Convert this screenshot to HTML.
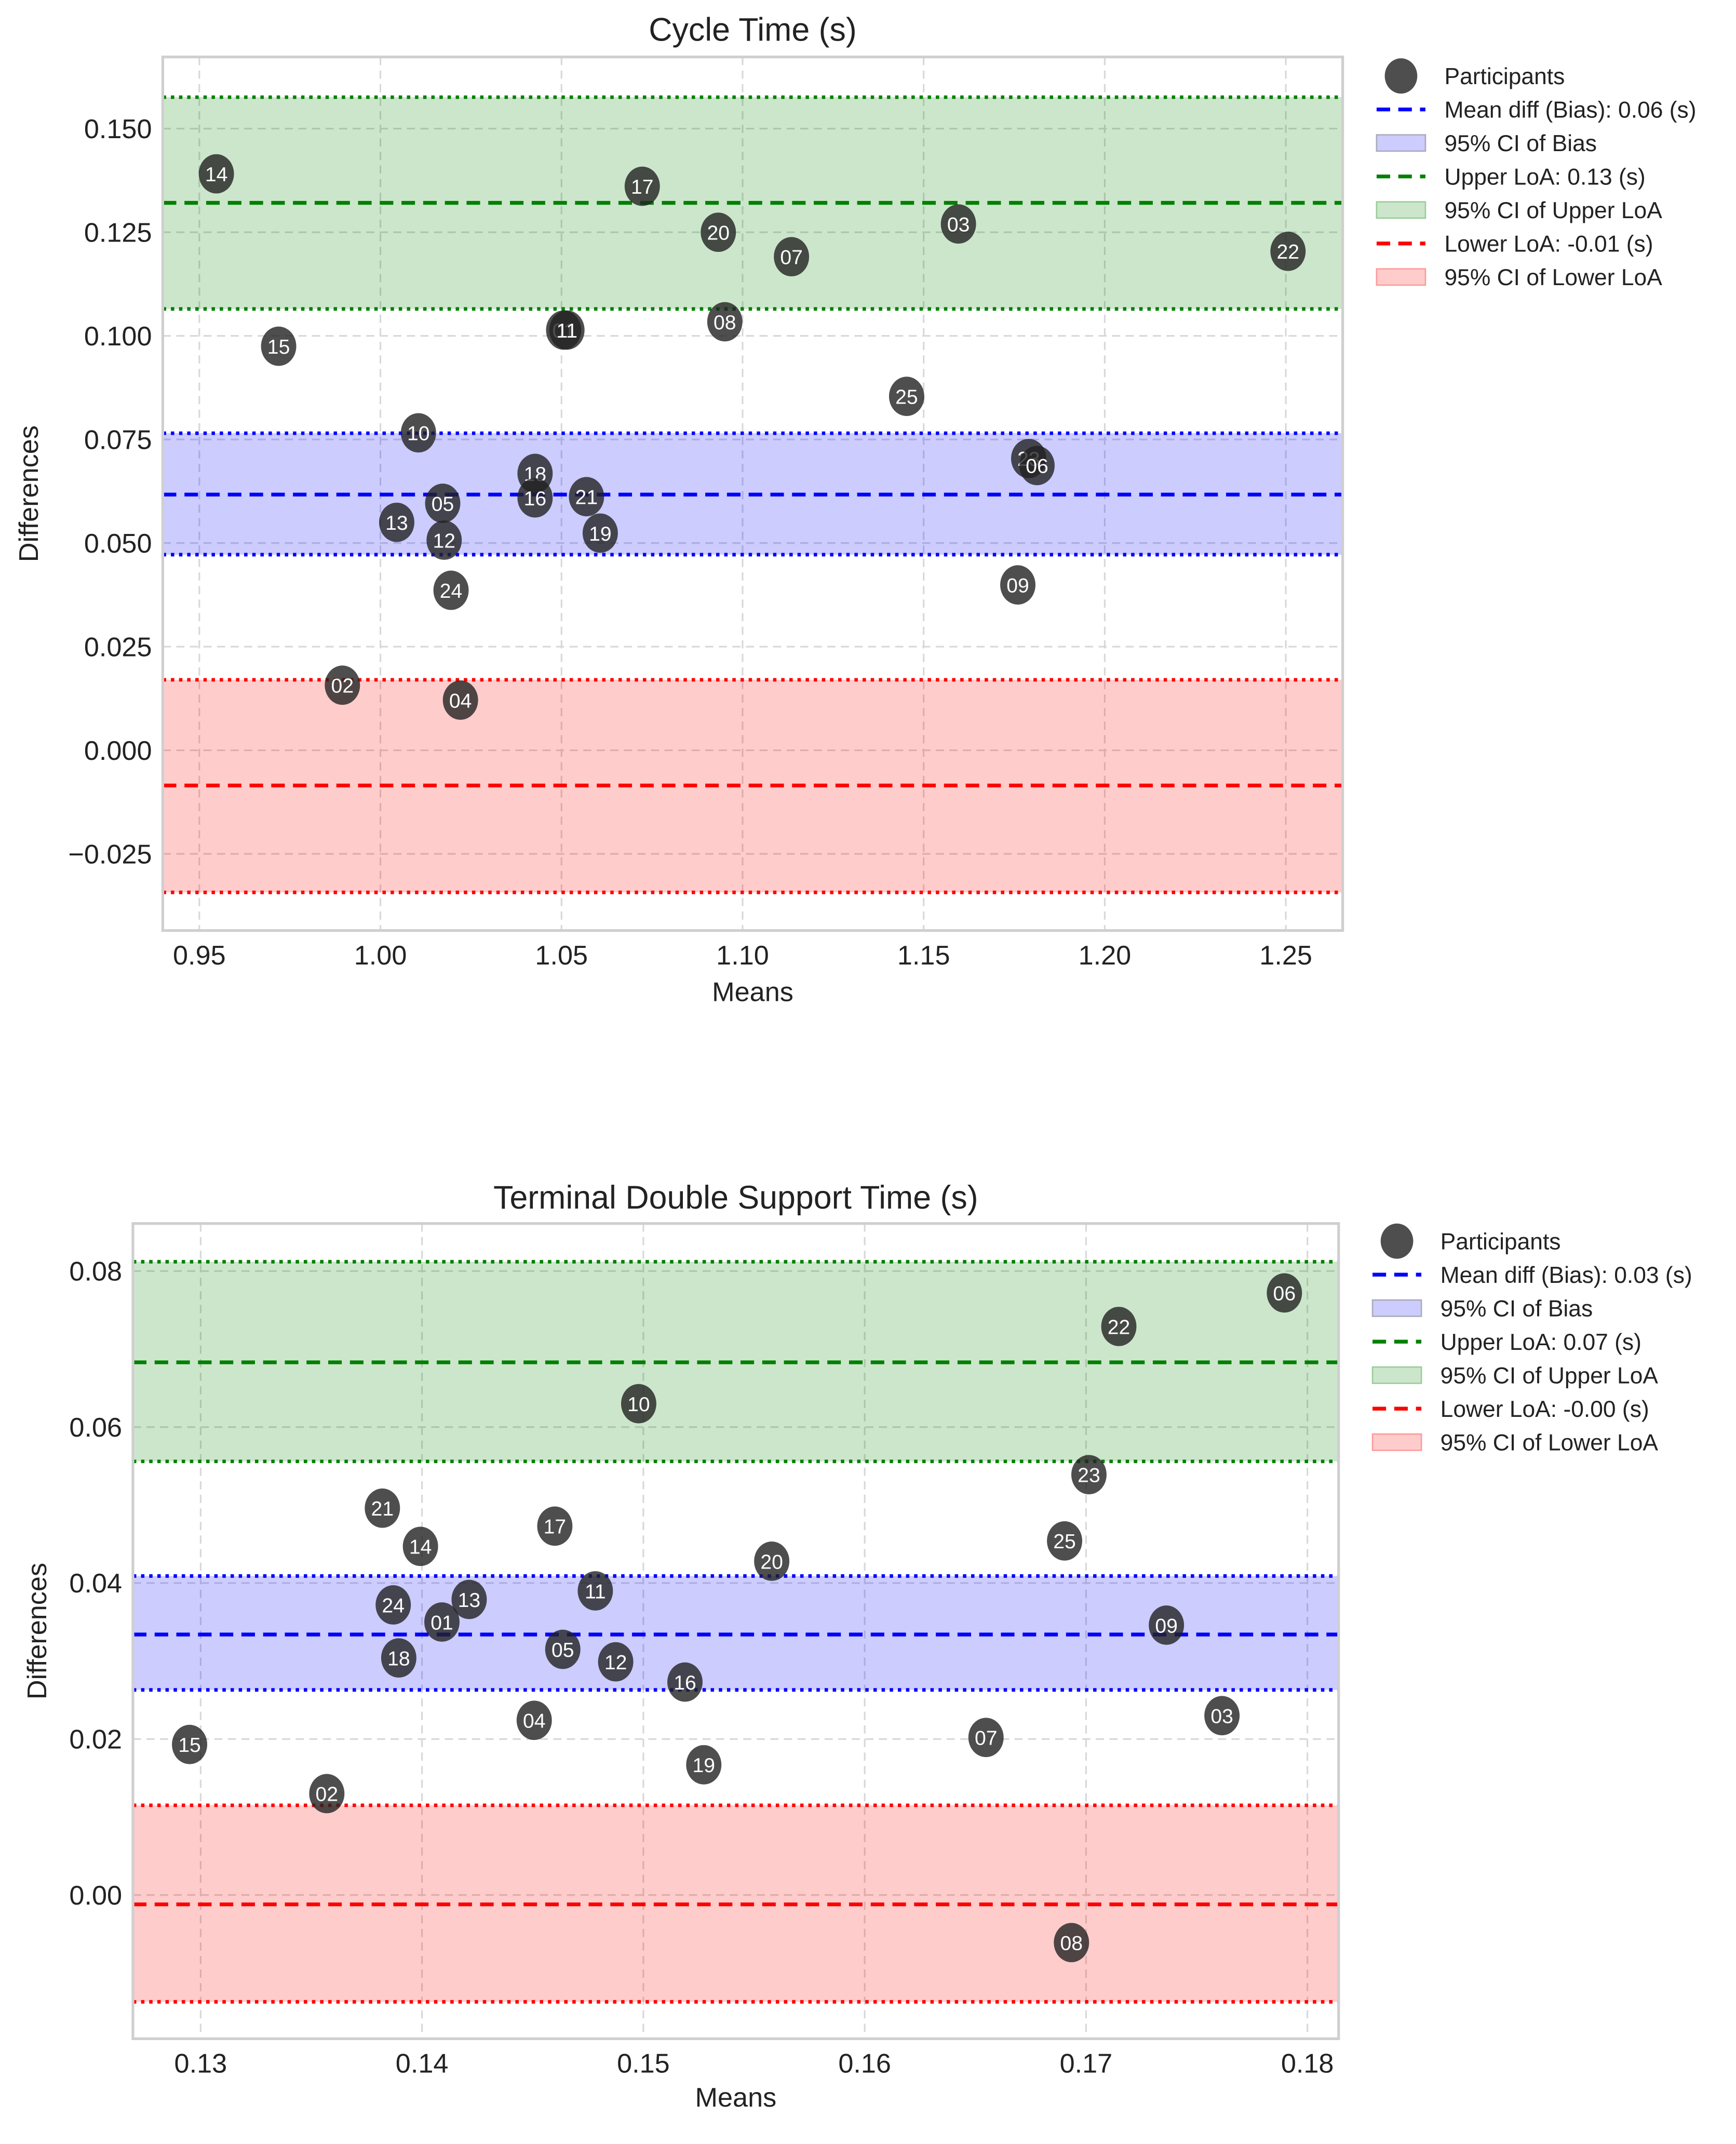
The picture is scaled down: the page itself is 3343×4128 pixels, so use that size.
<!DOCTYPE html>
<html><head><meta charset="utf-8"><style>
html,body{margin:0;padding:0;background:#fff;}
svg{display:block;font-family:"Liberation Sans",sans-serif;}
</style></head><body>
<svg id="root" width="3343" height="4128" viewBox="0 0 1280 1580.6" preserveAspectRatio="none" xmlns="http://www.w3.org/2000/svg"></svg>
<script>
// ---- Chart 1: Cycle Time ----
const c1Ids = ["14","17","20","07","03","22","15","01","11","08","25","10","23","06","18","16","21","05","13","19","12","24","09","02","04"];
const c1Means = [0.9547,1.0723,1.0933,1.1135,1.1596,1.2506,0.9719,1.0506,1.0515,1.0951,1.1453,1.0105,1.179,1.1813,1.0427,1.0427,1.0569,1.0172,1.0045,1.0607,1.0176,1.0195,1.176,0.9895,1.0221];
const c1Diffs = [0.1391,0.1361,0.125,0.1191,0.127,0.1204,0.0975,0.1014,0.1014,0.1034,0.0854,0.0766,0.0704,0.0687,0.0668,0.0609,0.0612,0.0596,0.055,0.0524,0.0507,0.0386,0.0399,0.0157,0.0121];
const c1XTicks = [0.95,1.00,1.05,1.10,1.15,1.20,1.25];
const c1XTickLabels = ["0.95","1.00","1.05","1.10","1.15","1.20","1.25"];
const c1YTicks = [0.150,0.125,0.100,0.075,0.050,0.025,0.000,-0.025];
const c1YTickLabels = ["0.150","0.125","0.100","0.075","0.050","0.025","0.000","\u22120.025"];
const c1Stats = [0.0617,0.0472,0.0765,0.1321,0.1065,0.1576,-0.0085,-0.0343,0.0170];
const c1Legend = ["Participants","Mean diff (Bias): 0.06 (s)","95% CI of Bias","Upper LoA: 0.13 (s)","95% CI of Upper LoA","Lower LoA: -0.01 (s)","95% CI of Lower LoA"];

// ---- Chart 2: Terminal Double Support ----
const c2Ids = ["06","22","10","23","21","17","14","25","20","11","13","24","01","09","18","05","12","16","04","03","07","15","19","02","08"];
const c2Means = [0.17896,0.17148,0.14979,0.17013,0.13821,0.1460,0.13993,0.16903,0.1558,0.14783,0.14213,0.1387,0.1409,0.17363,0.13895,0.14636,0.14875,0.15188,0.14507,0.17614,0.16548,0.1295,0.15273,0.1357,0.16934];
const c2Diffs = [0.0772,0.0729,0.0630,0.0539,0.0496,0.0473,0.0447,0.0454,0.0428,0.0390,0.0379,0.0372,0.0350,0.0346,0.0304,0.0315,0.0299,0.0273,0.0224,0.0230,0.0202,0.0193,0.0167,0.0130,-0.0061];
const c2XTicks = [0.13,0.14,0.15,0.16,0.17,0.18];
const c2XTickLabels = ["0.13","0.14","0.15","0.16","0.17","0.18"];
const c2YTicks = [0.08,0.06,0.04,0.02,0.00];
const c2YTickLabels = ["0.08","0.06","0.04","0.02","0.00"];
const c2Stats = [0.0334,0.0263,0.0409,0.0683,0.0556,0.0812,-0.0012,-0.0137,0.0115];
const c2Legend = ["Participants","Mean diff (Bias): 0.03 (s)","95% CI of Bias","Upper LoA: 0.07 (s)","95% CI of Upper LoA","Lower LoA: -0.00 (s)","95% CI of Lower LoA"];

const NS = "http://www.w3.org/2000/svg";
const root = document.getElementById('root');
function mk(tag, attrs, parent){
  const e = document.createElementNS(NS, tag);
  for (const k in attrs) e.setAttribute(k, attrs[k]);
  (parent||root).appendChild(e);
  return e;
}

function drawChart(cfg){
  const {name, title, box, xlim, ylim, xTicks, xLabels, yTicks, yLabels, ids, means, diffs, stats, legend, legendX, legendY, titleY, yTitleX, xTitleY} = cfg;
  const g = mk('g', {});
  
  
  const X = v => box.x0 + (v - xlim[0]) / (xlim[1] - xlim[0]) * (box.x1 - box.x0);
  const Y = v => box.y1 - (v - ylim[0]) / (ylim[1] - ylim[0]) * (box.y1 - box.y0);
  const clipId = name + '-clip';
  const defs = mk('defs', {}, g);
  const cp = mk('clipPath', {id: clipId}, defs);
  mk('rect', {x: box.x0, y: box.y0, width: box.x1 - box.x0, height: box.y1 - box.y0}, cp);

  const t = mk('text', {x: (box.x0 + box.x1) / 2, y: titleY, 'text-anchor': 'middle', 'font-size': 24, fill: '#222'}, g);
  t.textContent = title;
  
  

  const grid = mk('g', {'clip-path': 'url(#' + clipId + ')'}, g);
  
  
  xTicks.forEach(v => mk('line', {x1: X(v), x2: X(v), y1: box.y0, y2: box.y1, stroke: '#d8d8d8', 'stroke-width': 1.2, 'stroke-dasharray': '6,4'}, grid));
  yTicks.forEach(v => mk('line', {x1: box.x0, x2: box.x1, y1: Y(v), y2: Y(v), stroke: '#d8d8d8', 'stroke-width': 1.2, 'stroke-dasharray': '6,4'}, grid));

  const bands = [[stats[4], stats[5], 'rgba(0,128,0,0.2)', 'upper-loa-ci-band', 'green'],
                 [stats[1], stats[2], 'rgba(0,0,255,0.2)', 'bias-ci-band', 'blue'],
                 [stats[7], stats[8], 'rgba(255,0,0,0.2)', 'lower-loa-ci-band', 'red']];
  bands.forEach(b => {
    const r = mk('rect', {x: box.x0, y: Y(b[1]), width: box.x1 - box.x0, height: Y(b[0]) - Y(b[1]), fill: b[2]}, g);
    
    
    [b[0], b[1]].forEach(v => mk('line', {x1: box.x0, x2: box.x1, y1: Y(v), y2: Y(v), stroke: b[4], 'stroke-width': 2.6, 'stroke-dasharray': '2.5,3.5'}, g));
  });
  const lines = [[stats[0], 'blue', 'bias-line'], [stats[3], 'green', 'upper-loa-line'], [stats[6], 'red', 'lower-loa-line']];
  lines.forEach(l => {
    const e = mk('line', {x1: box.x0, x2: box.x1, y1: Y(l[0]), y2: Y(l[0]), stroke: l[1], 'stroke-width': 2.8, 'stroke-dasharray': '10,6'}, g);
    
    
  });

  const pts = mk('g', {}, g);
  
  
  ids.forEach((id, i) => {
    const cx = X(means[i]), cy = Y(diffs[i]);
    const pg = mk('g', {}, pts);
    
    
    mk('ellipse', {cx: cx, cy: cy, rx: 13, ry: 14.5, fill: '#222', 'fill-opacity': 0.8}, pg);
    const tx = mk('text', {x: cx, y: cy + 5.5, 'text-anchor': 'middle', 'font-size': 15, fill: '#fff'}, pg);
    tx.textContent = id;
  });

  const fr = mk('rect', {x: box.x0, y: box.y0, width: box.x1 - box.x0, height: box.y1 - box.y0, fill: 'none', stroke: '#cfcfcf', 'stroke-width': 2}, g);
  
  

  xTicks.forEach((v, i) => {
    const e = mk('text', {x: X(v), y: box.y1 + 25, 'text-anchor': 'middle', 'font-size': 20, fill: '#222'}, g);
    e.textContent = xLabels[i];
    
    
  });
  yTicks.forEach((v, i) => {
    const e = mk('text', {x: box.x0 - 8, y: Y(v) + 7, 'text-anchor': 'end', 'font-size': 20, fill: '#222'}, g);
    e.textContent = yLabels[i];
    
    
  });
  const xt = mk('text', {x: (box.x0 + box.x1) / 2, y: xTitleY, 'text-anchor': 'middle', 'font-size': 20, fill: '#222'}, g);
  xt.textContent = 'Means';
  
  
  const yc = (box.y0 + box.y1) / 2;
  const yt = mk('text', {x: yTitleX, y: yc, 'text-anchor': 'middle', 'font-size': 20, fill: '#222', transform: 'rotate(-90 ' + yTitleX + ' ' + yc + ')'}, g);
  yt.textContent = 'Differences';
  
  

  const lg = mk('g', {}, g);
  
  
  const kinds = ['dot', ['blue'], ['rgba(0,0,255,0.2)', '#aab'], ['green'], ['rgba(0,128,0,0.2)', '#9c9'], ['red'], ['rgba(255,0,0,0.2)', '#f99']];
  legend.forEach((lab, i) => {
    const y = legendY + i * 24.7;
    const k = kinds[i];
    const eg = mk('g', {}, lg);
    
    
    if (k === 'dot') mk('ellipse', {cx: legendX + 18, cy: y, rx: 12, ry: 13, fill: '#222', 'fill-opacity': 0.8}, eg);
    else if (k.length === 1) mk('line', {x1: legendX, x2: legendX + 36, y1: y, y2: y, stroke: k[0], 'stroke-width': 2.8, 'stroke-dasharray': '10,6'}, eg);
    else mk('rect', {x: legendX, y: y - 6, width: 36, height: 12, fill: k[0], stroke: k[1], 'stroke-width': 1}, eg);
    const tx = mk('text', {x: legendX + 50, y: y + 6, 'font-size': 17, fill: '#222'}, eg);
    tx.textContent = lab;
  });
}

drawChart({name: 'cycle-time-chart', title: 'Cycle Time (s)', box: {x0: 120, x1: 990, y0: 42, y1: 686},
  xlim: [0.9399, 1.2657], ylim: [-0.0435, 0.1673], xTicks: c1XTicks, xLabels: c1XTickLabels, yTicks: c1YTicks, yLabels: c1YTickLabels,
  ids: c1Ids, means: c1Means, diffs: c1Diffs, stats: c1Stats, legend: c1Legend, legendX: 1015, legendY: 56, titleY: 30, yTitleX: 28, xTitleY: 738});
drawChart({name: 'terminal-double-support-chart', title: 'Terminal Double Support Time (s)', box: {x0: 98, x1: 987, y0: 902, y1: 1503},
  xlim: [0.12694, 0.18141], ylim: [-0.01843, 0.0861], xTicks: c2XTicks, xLabels: c2XTickLabels, yTicks: c2YTicks, yLabels: c2YTickLabels,
  ids: c2Ids, means: c2Means, diffs: c2Diffs, stats: c2Stats, legend: c2Legend, legendX: 1012, legendY: 915, titleY: 891, yTitleX: 34, xTitleY: 1553});
</script>
</body></html>
